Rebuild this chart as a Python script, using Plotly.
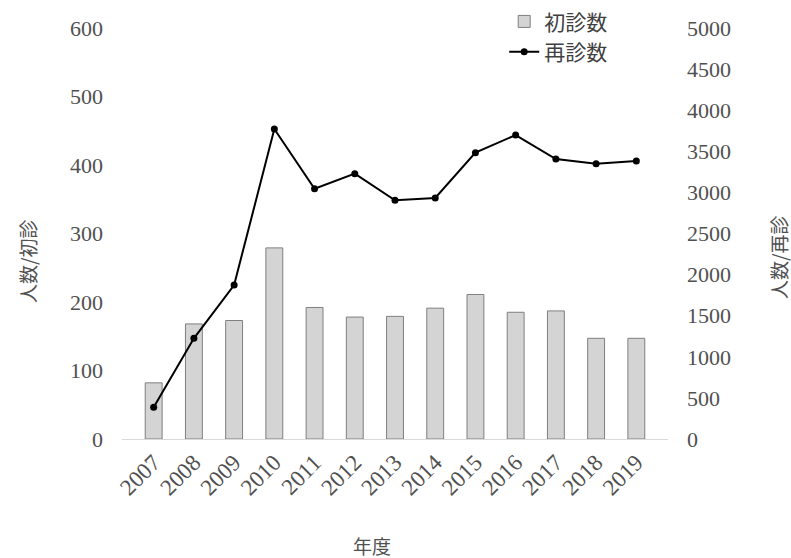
import plotly.graph_objects as go

years = ["2007", "2008", "2009", "2010", "2011", "2012", "2013",
         "2014", "2015", "2016", "2017", "2018", "2019"]
first_visits = [82, 168, 173, 279, 192, 178, 179, 191, 211, 185, 187, 147, 147]
return_visits = [386, 1225, 1873, 3771, 3045, 3228, 2904, 2932, 3483, 3698, 3406, 3349, 3382]

serif = "Liberation Serif, DejaVu Serif, serif"
cjk = "Noto Sans CJK JP, sans-serif"
tick_color = "#505050"

fig = go.Figure()
fig.add_trace(go.Bar(
    x=years, y=first_visits, name="初診数",
    marker=dict(color="#d4d4d4", line=dict(color="#7f7f7f", width=1)),
    yaxis="y",
))
fig.add_trace(go.Scatter(
    x=years, y=return_visits, name="再診数", mode="lines+markers",
    line=dict(color="black", width=2),
    marker=dict(color="black", size=7),
    yaxis="y2",
))

fig.update_layout(
    width=791, height=558,
    margin=dict(l=122, r=123, t=28, b=119, autoexpand=False),
    paper_bgcolor="white", plot_bgcolor="white",
    bargap=0.58,
    showlegend=True,
    legend=dict(
        x=0.70, y=1.065, xanchor="left", yanchor="top",
        font=dict(family=cjk, size=21, color="#404040"),
        bgcolor="rgba(0,0,0,0)", tracegroupgap=0, itemwidth=30,
    ),
    xaxis=dict(
        type="category", tickangle=-45,
        tickfont=dict(family=serif, size=23, color=tick_color),
        showgrid=False, showline=True, linecolor="#d9d9d9", linewidth=1,
        ticks="",
    ),
    yaxis=dict(
        range=[0, 600], dtick=100, showgrid=False, zeroline=False,
        tickfont=dict(family=serif, size=22, color=tick_color),
        ticks="", showline=False, ticklabelstandoff=18,
    ),
    yaxis2=dict(
        range=[0, 5000], dtick=500, overlaying="y", side="right",
        showgrid=False, zeroline=False,
        tickfont=dict(family=serif, size=22, color=tick_color),
        ticks="", showline=False, ticklabelstandoff=18,
    ),
    annotations=[
        dict(text="人数/初診", x=27, y=262, xref="paper", yref="paper",
             showarrow=False, textangle=-90,
             font=dict(family=cjk, size=19, color=tick_color)),
        dict(text="人数/再診", x=778, y=258, xref="paper", yref="paper",
             showarrow=False, textangle=-90,
             font=dict(family=cjk, size=19, color=tick_color)),
        dict(text="年度", x=372, y=545, xref="paper", yref="paper",
             showarrow=False,
             font=dict(family=cjk, size=19, color=tick_color)),
    ],
)

# convert pixel positions of annotations to paper coords
L, R, T, B = 122, 123, 28, 119
pw, ph = 791 - L - R, 558 - T - B
new_ann = []
for a in fig.layout.annotations:
    px, py = a.x, a.y
    a.x = (px - L) / pw
    a.y = (558 - B - py) / ph
    a.xanchor = "center"
    a.yanchor = "middle"
    new_ann.append(a)
fig.layout.annotations = new_ann

fig.write_html("out.html")
